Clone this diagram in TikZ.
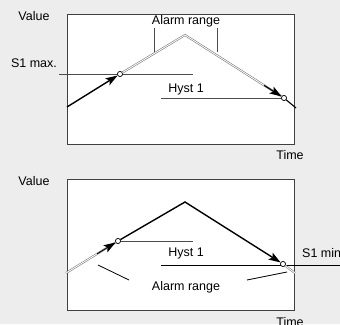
\documentclass[tikz,border=0pt]{standalone}
\usepackage{fontspec}
\setmainfont{Liberation Sans}
\usetikzlibrary{arrows.meta,calc,positioning}
\tikzstyle{frame} = [draw=black!75, fill=white, line width=0.8pt]
\tikzstyle{txt} = [font=\fontsize{12.5}{14}\selectfont, inner sep=0pt]
\tikzstyle{lead} = [draw=black!70, line width=0.8pt]
\tikzstyle{level} = [draw=black!70, line width=0.8pt]
\tikzstyle{alarm} = [draw=black!50, double=white, double distance=0.8pt, line width=0.6pt]
\tikzstyle{trend} = [draw=black, line width=1.4pt]
\tikzstyle{marker} = [circle, draw=black, fill=white, line width=0.6pt, inner sep=0pt, minimum size=5pt]
\tikzstyle{arrow} = [-{Stealth[length=12pt,width=8pt,inset=2.5pt]}]

\begin{document}
\begin{tikzpicture}[x=1pt, y=-1pt]
\useasboundingbox[fill=black!7] (0,0) rectangle (340,324);

% upper chart: S1 max.
\draw [frame] (67,14) rectangle (294,144);
\node (val1)  [txt] at (34,16) {Value};
\node (time1) [txt] at (290,155) {Time};
\node (rng1)  [txt] at (186,21) {Alarm range};
\node (max1)  [txt] at (34,63) {S1 max.};
\node (hys1)  [txt] at (186,89) {Hyst 1};

\coordinate (s1a) at (59,74);
\coordinate (s1b) at (193,74);
\coordinate (h1a) at (161,98);
\coordinate (h1b) at (283,98);
\draw [level] (s1a) -- (s1b);
\draw [level] (h1a) -- (h1b);

\coordinate (l1a) at (154,28);
\coordinate (l1b) at (154,52);
\coordinate (l1c) at (217,28);
\coordinate (l1d) at (217,52);
\draw [lead] (l1a) -- (l1b);
\draw [lead] (l1c) -- (l1d);

\coordinate (start1) at (67,107);
\coordinate (peak1) at (185,35);
\coordinate (end1) at (296,108);
\node (on1)  [marker] at (120,74) {};
\node (off1) [marker] at (284,98) {};

\draw [alarm] (on1.center) -- (peak1) -- (off1.center);
\draw [trend, arrow] (start1) -- (on1);
\draw [trend, line width=1.1pt, arrow] ($(peak1)!0.8!(off1)$) -- (off1);
\draw [trend, line width=1.1pt] (off1) -- (end1);
\node [marker] at (on1) {};
\node [marker] at (off1) {};

% lower chart: S1 min
\draw [frame] (67,179) rectangle (294,310);
\node (val2)  [txt] at (34,181) {Value};
\node (time2) [txt] at (290,322) {Time};
\node (rng2)  [txt] at (186,287) {Alarm range};
\node (min2)  [txt, anchor=west] at (302,253) {S1 min};
\node (hys2)  [txt] at (186,253) {Hyst 1};

\coordinate (h2a) at (118,241);
\coordinate (h2b) at (193,241);
\coordinate (s2a) at (161,265);
\coordinate (s2b) at (340,265);
\draw [level] (h2a) -- (h2b);
\draw [draw=black, line width=0.8pt] (s2a) -- (s2b);

\coordinate (l2a) at (98,265);
\coordinate (l2b) at (129,280);
\coordinate (l2c) at (247,280);
\coordinate (l2d) at (287,272);
\draw [draw=black, line width=0.8pt] (l2a) -- (l2b);
\draw [draw=black, line width=0.8pt] (l2c) -- (l2d);

\coordinate (start2) at (66,273);
\coordinate (peak2) at (185,202);
\coordinate (end2) at (295,273);
\node (on2)  [marker] at (118,241) {};
\node (off2) [marker] at (283,264) {};

\draw [alarm] (start2) -- (on2.center);
\draw [alarm] (off2.center) -- (end2);
\draw [trend, line width=0.9pt, arrow] ($(start2)!0.6!(on2)$) -- (on2);
\draw [trend, arrow] (on2) -- (peak2) -- (off2);
\node [marker] at (on2) {};
\node [marker] at (off2) {};
\end{tikzpicture}
\end{document}
